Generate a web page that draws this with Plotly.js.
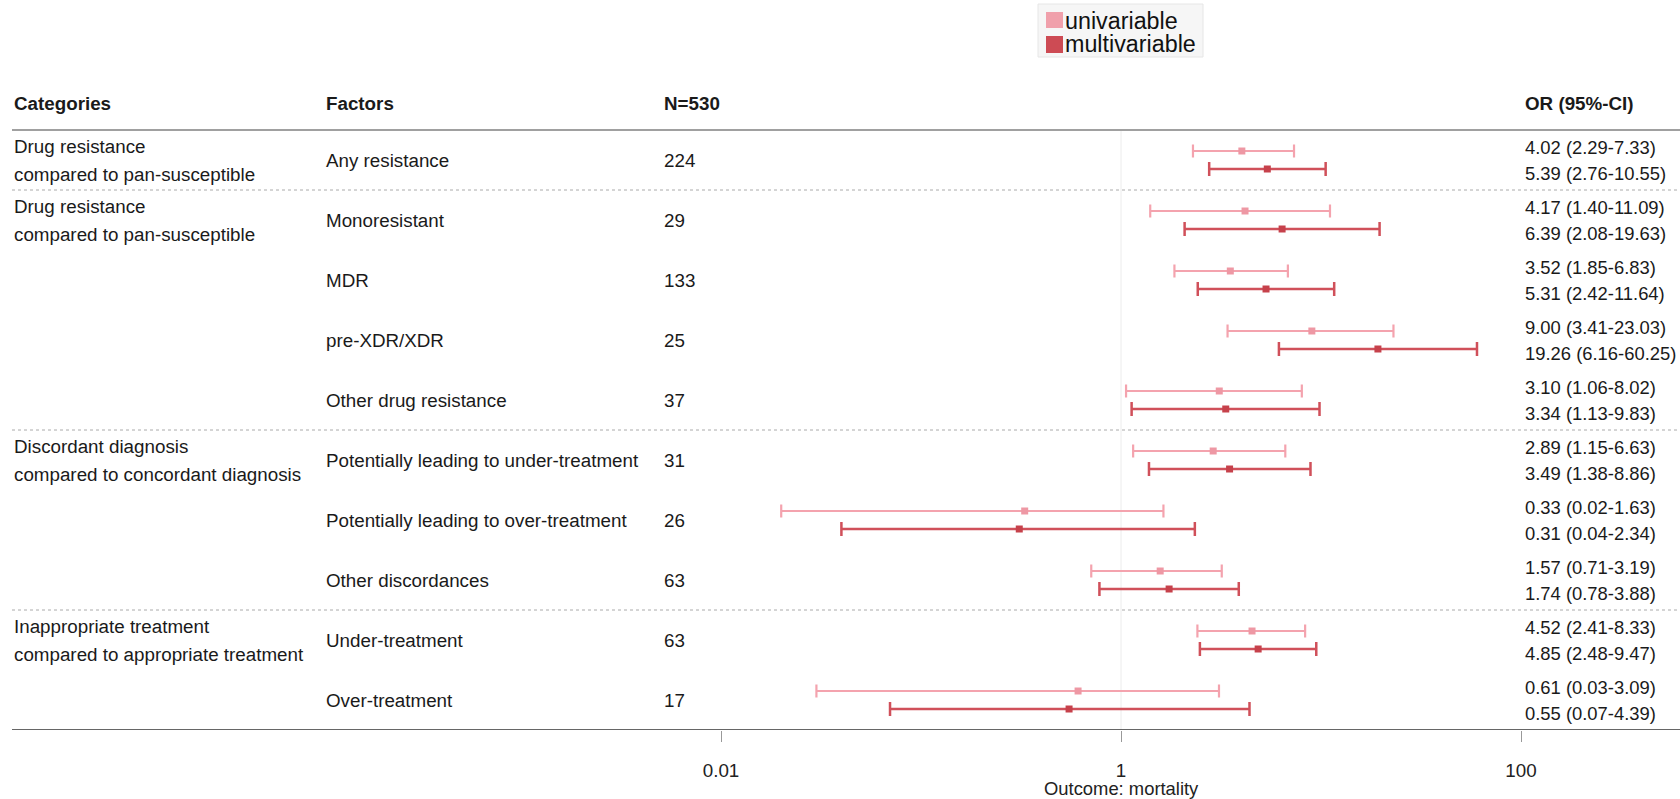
<!DOCTYPE html>
<html>
<head>
<meta charset="utf-8">
<script src="https://cdn.plot.ly/plotly-3.0.1.min.js"></script>
<style>html,body{margin:0;padding:0;background:#fff;}#chart{width:1680px;height:799px;}</style>
</head>
<body>
<div id="chart"></div>
<script>
// ---------------- data ----------------
const groupTitles = [
  ["Drug resistance", "compared to pan-susceptible"],
  ["Drug resistance", "compared to pan-susceptible"],
  ["Discordant diagnosis", "compared to concordant diagnosis"],
  ["Inappropriate treatment", "compared to appropriate treatment"]
];
const groupSizes = [1, 4, 3, 2];
const factors = [
  "Any resistance", "Monoresistant", "MDR", "pre-XDR/XDR", "Other drug resistance",
  "Potentially leading to under-treatment", "Potentially leading to over-treatment", "Other discordances",
  "Under-treatment", "Over-treatment"
];
const nCounts = [224, 29, 133, 25, 37, 31, 26, 63, 63, 17];
const uniOR = [4.02, 4.17, 3.52, 9.00, 3.10, 2.89, 0.33, 1.57, 4.52, 0.61];
const uniLo = [2.29, 1.40, 1.85, 3.41, 1.06, 1.15, 0.02, 0.71, 2.41, 0.03];
const uniHi = [7.33, 11.09, 6.83, 23.03, 8.02, 6.63, 1.63, 3.19, 8.33, 3.09];
const multiOR = [5.39, 6.39, 5.31, 19.26, 3.34, 3.49, 0.31, 1.74, 4.85, 0.55];
const multiLo = [2.76, 2.08, 2.42, 6.16, 1.13, 1.38, 0.04, 0.78, 2.48, 0.07];
const multiHi = [10.55, 19.63, 11.64, 60.25, 9.83, 8.86, 2.34, 3.88, 9.47, 4.39];
const headers = ["Categories", "Factors", "N=530", "OR (95%-CI)"];
const seriesNames = ["univariable", "multivariable"];
const tickVals = [0.01, 1, 100];
const tickLabels = ["0.01", "1", "100"];
const xTitle = "Outcome: mortality";

// ---------------- styling / layout helpers ----------------
const W = 1680, H = 799, PLOT_H = 730;
const ROW_PX = 60, FIRST_ROW_PX = 160;
const uniColor = "#F4A3AE", uniMarker = "#EE98A4";
const multiColor = "#D0505A", multiMarker = "#C6414B";
const FONT = "Liberation Sans, Arial, Helvetica, sans-serif";
const FS = 18.8;
const FS_OR = 18.4;
const px2x = p => p / W;                          // paper x from pixel
const pyRow = p => (p - FIRST_ROW_PX) / ROW_PX;   // row units from pixel
const pyPaper = p => (PLOT_H - p) / PLOT_H;       // paper y from pixel
// log-axis mapping: value 1 at pixel 1121, 200 px per decade
const X1PX = 1121, DEC = 200;
const xRange = [(0 - X1PX) / DEC, (W - X1PX) / DEC];

const rows = factors.map((_, i) => i);
const off = 9 / ROW_PX;

const traces = [
  {
    type: "scatter", mode: "markers", name: seriesNames[0], showlegend: false,
    x: uniOR, y: rows.map(r => r - off),
    marker: { symbol: "square", size: 7, color: uniMarker },
    error_x: { type: "data", symmetric: false,
      array: uniHi.map((h, i) => h - uniOR[i]),
      arrayminus: uniLo.map((l, i) => uniOR[i] - l),
      color: uniColor, thickness: 2.2, width: 6.5 },
    hoverinfo: "x"
  },
  {
    type: "scatter", mode: "markers", name: seriesNames[1], showlegend: false,
    x: multiOR, y: rows.map(r => r + off),
    marker: { symbol: "square", size: 7, color: multiMarker },
    error_x: { type: "data", symmetric: false,
      array: multiHi.map((h, i) => h - multiOR[i]),
      arrayminus: multiLo.map((l, i) => multiOR[i] - l),
      color: multiColor, thickness: 2.5, width: 7 },
    hoverinfo: "x"
  }
];

const annotations = [];
const shapes = [];
const txt = (x, y, text, opts) => Object.assign({
  xref: "paper", yref: "y", x: x, y: y, text: text, showarrow: false,
  xanchor: "left", yanchor: "middle", borderpad: 0,
  font: { family: FONT, size: FS, color: "#1a1a1a" }
}, opts || {});

// header row
const colPx = [13, 325, 663, 1524];
const headerY = pyRow(103);
headers.forEach((h, k) => annotations.push(txt(px2x(colPx[k]), headerY, "<b>" + h + "</b>")));

// group titles and dividers
let start = 0;
groupSizes.forEach((sz, g) => {
  annotations.push(txt(px2x(colPx[0]), start - 14 / ROW_PX, groupTitles[g][0]));
  annotations.push(txt(px2x(colPx[0]), start + 14 / ROW_PX, groupTitles[g][1]));
  if (g > 0) {
    shapes.push({ type: "line", xref: "paper", yref: "y", x0: px2x(12), x1: 1,
      y0: start - 0.5, y1: start - 0.5, line: { color: "#aaaaaa", width: 1, dash: "dot" } });
  }
  start += sz;
});

// factor, N, OR text
const orFont = { family: FONT, size: FS_OR, color: "#1a1a1a" };
factors.forEach((f, i) => {
  annotations.push(txt(px2x(colPx[1]), i, f));
  annotations.push(txt(px2x(colPx[2]), i, String(nCounts[i])));
  annotations.push(txt(px2x(colPx[3]), i - 13 / ROW_PX,
    uniOR[i].toFixed(2) + " (" + uniLo[i].toFixed(2) + "-" + uniHi[i].toFixed(2) + ")", { font: orFont }));
  annotations.push(txt(px2x(colPx[3]), i + 13 / ROW_PX,
    multiOR[i].toFixed(2) + " (" + multiLo[i].toFixed(2) + "-" + multiHi[i].toFixed(2) + ")", { font: orFont }));
});

const lastRow = factors.length - 1;
// top line, bottom axis line, reference line at 1
shapes.push({ type: "line", xref: "paper", yref: "y", x0: px2x(12), x1: 1, y0: -0.5, y1: -0.5,
  line: { color: "#a0a0a0", width: 2 } });
shapes.push({ type: "line", xref: "paper", yref: "y", x0: px2x(12), x1: 1, y0: lastRow + 0.5, y1: lastRow + 0.5,
  line: { color: "#333333", width: 1.5 } });
shapes.push({ type: "line", xref: "x", yref: "y", x0: 1, x1: 1, y0: -0.5, y1: lastRow + 0.5,
  line: { color: "#ececec", width: 1 }, layer: "below" });

// x-axis title, centred on the reference value 1 (log axis: annotation x in log10 units)
annotations.push({ xref: "x", yref: "paper", x: Math.log10(1), y: pyPaper(788), text: xTitle,
  showarrow: false, xanchor: "center", yanchor: "middle", borderpad: 0,
  font: { family: FONT, size: FS_OR, color: "#222222" } });

// manual legend (box, swatches, labels)
shapes.push({ type: "rect", xref: "paper", yref: "paper", x0: px2x(1038), x1: px2x(1203),
  y0: pyPaper(57), y1: pyPaper(4), fillcolor: "#f6f6f6", line: { color: "#e6e6e6", width: 1 } });
shapes.push({ type: "rect", xref: "paper", yref: "paper", x0: px2x(1046), x1: px2x(1063),
  y0: pyPaper(28), y1: pyPaper(12), fillcolor: "#F0A0AB", line: { width: 0 } });
shapes.push({ type: "rect", xref: "paper", yref: "paper", x0: px2x(1046), x1: px2x(1063),
  y0: pyPaper(53), y1: pyPaper(36), fillcolor: "#CD4B54", line: { width: 0 } });
annotations.push({ xref: "paper", yref: "paper", x: px2x(1064), y: pyPaper(21), text: seriesNames[0],
  showarrow: false, xanchor: "left", yanchor: "middle", borderpad: 0,
  font: { family: FONT, size: 23.3, color: "#111" } });
annotations.push({ xref: "paper", yref: "paper", x: px2x(1064), y: pyPaper(44), text: seriesNames[1],
  showarrow: false, xanchor: "left", yanchor: "middle", borderpad: 0,
  font: { family: FONT, size: 23.3, color: "#111" } });

const layout = {
  width: W, height: H,
  margin: { l: 0, r: 0, t: 0, b: H - PLOT_H, pad: 0 },
  paper_bgcolor: "#ffffff", plot_bgcolor: "#ffffff",
  showlegend: false,
  xaxis: {
    type: "log", range: xRange, showgrid: false, zeroline: false, showline: false,
    tickmode: "array", tickvals: tickVals, ticktext: tickLabels,
    ticks: "outside", ticklen: 11, tickwidth: 1, tickcolor: "#999999",
    ticklabelstandoff: 12,
    tickfont: { family: FONT, size: FS, color: "#222222" },
    fixedrange: true
  },
  yaxis: {
    range: [pyRow(PLOT_H), pyRow(0)], showgrid: false, zeroline: false, showline: false,
    showticklabels: false, ticks: "", fixedrange: true
  },
  annotations: annotations,
  shapes: shapes
};

Plotly.newPlot("chart", traces, layout, { displayModeBar: false, staticPlot: true });
</script>
</body>
</html>
